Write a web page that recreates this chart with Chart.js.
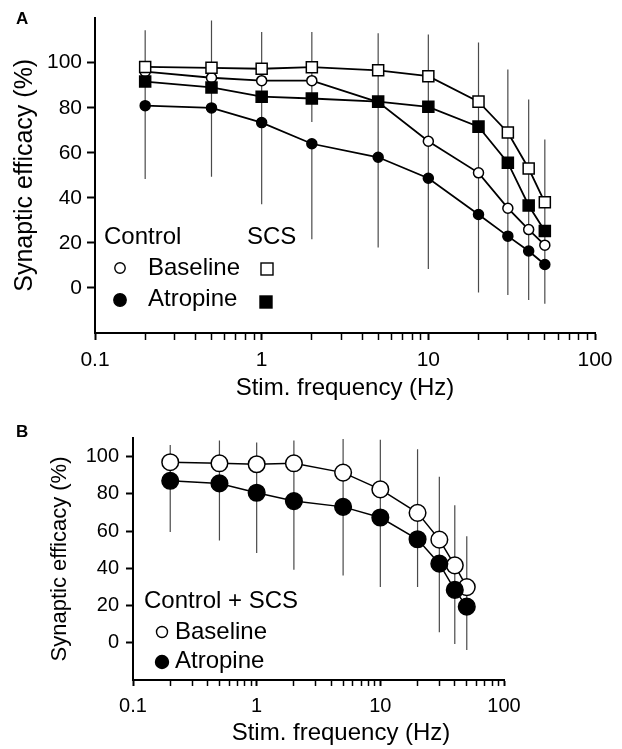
<!DOCTYPE html>
<html><head><meta charset="utf-8">
<script src="https://cdn.jsdelivr.net/npm/chart.js@4.4.1/dist/chart.umd.min.js"></script>
<style>
html,body{margin:0;padding:0;background:#fff;}
#wrap{position:relative;width:622px;height:749px;overflow:hidden;}
.pane{position:absolute;left:0;width:622px;}
</style></head><body>
<div id="wrap">
<div class="pane" style="top:0;height:400px"><canvas id="cA" width="622" height="400"></canvas></div>
<div class="pane" style="top:400px;height:349px"><canvas id="cB" width="622" height="349"></canvas></div>
</div>
<script>
// ---------- data ----------
const freqs = [0.2, 0.5, 1, 2, 5, 10, 20, 30, 40, 50];
const xTickLabels = ['0.1', '1', '10', '100'];
const xMajorValues = [0.1, 1, 10, 100];
const yTickValues = [0, 20, 40, 60, 80, 100];

// Panel A
const aCtrlBase = [96, 93.3, 92, 92, 82.5, 65.1, 51.1, 35.4, 25.9, 19];
const aCtrlAtro = [80.9, 79.9, 73.4, 64, 58, 48.7, 32.6, 23, 16.4, 10.4];
const aScsBase  = [98.1, 97.7, 97.3, 98, 96.6, 94, 82.7, 69, 53, 38];
const aScsAtro  = [91.6, 89, 84.9, 84.1, 82.7, 80.4, 71.6, 55.6, 36.6, 25.3];
const aErrFreq  = [0.2, 0.5, 1, 2, 2, 5, 10, 20, 30, 40, 50];
const aErrHigh  = [114.4, 118.7, 113.6, 113.6, 64, 113, 112.5, 109, 97, 83.6, 65.9];
const aErrLow   = [48.4, 49.4, 37.1, 73.7, 21.6, 18, 8.4, -2, -3.1, -5.3, -7];

// Panel B
const bBase    = [97, 96.4, 95.9, 96.4, 91.4, 82.4, 69.8, 55.4, 41.6, 29.9];
const bAtro    = [87, 85.6, 80.6, 76.1, 73, 67.3, 55.6, 42.5, 28.4, 19.4];
const bErrHigh = [106.3, 108.7, 107.6, 108.6, 109.4, 109, 104, 89.2, 73.9, 57.2];
const bErrLow  = [59.5, 55, 48.2, 39.2, 36.2, 29.9, 29.9, 5.6, -0.7, -3.9];

// ---------- helpers ----------
const FONT = '"Liberation Sans", Arial, Helvetica, sans-serif';
function pts(arr){ return freqs.map((f,i)=>({x:f, y:arr[i]})); }
function errData(fx, lo, hi){
  const d=[];
  fx.forEach((f,i)=>{ d.push({x:f,y:lo[i]},{x:f,y:hi[i]},{x:f,y:null}); });
  return d;
}
function logTicks(){
  const t=[];
  for (let e=-1; e<=1; e++){ for (let m=1; m<=9; m++){ t.push({value: m*Math.pow(10,e)}); } }
  t.push({value:100});
  return t;
}
function isMajor(v){ return xMajorValues.some(m=>Math.abs(v-m)<1e-9*Math.max(1,m)); }
function xLabel(v){ const i = xMajorValues.findIndex(m=>Math.abs(v-m)<1e-9*Math.max(1,m)); return i>=0 ? xTickLabels[i] : ''; }

function series(data, style, radius, fill, lw, order){
  return { data, showLine:true, borderColor:'#000', borderWidth:lw,
    pointStyle:style, pointRadius:radius, pointHoverRadius:radius,
    pointBackgroundColor:fill, pointBorderColor:'#000', pointBorderWidth:1.5,
    fill:false, tension:0, order };
}
function errSeries(data){
  return { data, showLine:true, borderColor:'#4a4a4a', borderWidth:1.2,
    pointRadius:0, pointHoverRadius:0, spanGaps:false, fill:false, order:100 };
}

function makeScales(o){
  return {
    x: {
      type:'logarithmic', min:0.1, max:100, position:'bottom',
      afterBuildTicks(s){ s.ticks = logTicks(); },
      afterFit(s){ s.height = o.xH; },
      ticks:{ autoSkip:false, maxRotation:0, minRotation:0, color:'#000',
        font:{family:FONT, size:o.tickSize}, padding:o.xPad,
        callback:(v)=>xLabel(v) },
      grid:{ drawOnChartArea:false, drawTicks:true, tickLength:o.xTick, tickColor:'#000',
        tickWidth:(c)=> (c.tick && isMajor(c.tick.value)) ? 2 : 1.5 },
      border:{ display:true, color:'#000', width:2 },
      title:{ display:o.xTitle, text:'Stim. frequency (Hz)', color:'#000',
        font:{family:FONT, size:24, lineHeight:1}, padding:{top:0,bottom:0} }
    },
    y: {
      min:-20, max:o.yMax, position:'left',
      afterBuildTicks(s){ s.ticks = yTickValues.map(v=>({value:v})); },
      afterFit(s){ s.width = o.yW; },
      ticks:{ color:'#000', font:{family:FONT, size:o.tickSize}, padding:o.yPad },
      grid:{ drawOnChartArea:false, drawTicks:true, tickLength:o.yTick, tickColor:'#000', tickWidth:2 },
      border:{ display:true, color:'#000', width:2 },
      title:{ display:true, text:'Synaptic efficacy (%)', color:'#000',
        font:{family:FONT, size:o.yTitleSize, lineHeight:1}, padding:{top:o.yTitlePad,bottom:0} }
    }
  };
}

function circle(c,x,y,r,filled){
  c.beginPath(); c.arc(x,y,r,0,Math.PI*2);
  c.fillStyle = filled ? '#000' : '#fff'; c.fill();
  c.lineWidth=1.4; c.strokeStyle='#000'; c.stroke();
}
function square(c,x,y,s,filled){
  c.fillStyle = filled ? '#000' : '#fff';
  c.fillRect(x-s/2,y-s/2,s,s);
  c.lineWidth=1.4; c.strokeStyle='#000'; c.strokeRect(x-s/2,y-s/2,s,s);
}

// ---------- Panel A ----------
const annoA = { id:'annoA', afterDraw(chart){
  const c=chart.ctx; c.save();
  c.fillStyle='#000'; c.textBaseline='middle'; c.textAlign='left';
  c.font='bold 17px '+FONT; c.fillText('A', 16, 19);
  c.fillStyle='#000'; c.font='24px '+FONT;
  c.fillText('Control', 104, 237);
  c.fillText('SCS', 247, 237);
  c.fillText('Baseline', 148, 268);
  c.fillText('Atropine', 148, 299);
  circle(c,120,268,5.2,false);
  circle(c,120,300,6.2,true);
  square(c,267,269,12,false);
  square(c,266,302,12,true);
  c.restore();
}};

new Chart(document.getElementById('cA'), {
  type:'scatter',
  data:{ datasets:[
    errSeries(errData(aErrFreq, aErrLow, aErrHigh)),
    series(pts(aCtrlBase),'circle',5,'#fff',1.8,40),
    series(pts(aCtrlAtro),'circle',5,'#000',1.8,30),
    series(pts(aScsBase),'rect',7.8,'#fff',1.8,20),
    series(pts(aScsAtro),'rect',7.8,'#000',1.8,10)
  ]},
  options:{
    responsive:false, animation:false, events:[],
    layout:{ padding:{left:0, right:27, top:7, bottom:0} },
    plugins:{ legend:{display:false}, tooltip:{enabled:false} },
    scales: makeScales({xH:67, yW:95, tickSize:21, xPad:8, xTick:7, yPad:5, yTick:8,
      yMax:120, xTitle:true, yTitleSize:25, yTitlePad:13})
  },
  plugins:[annoA]
});

// ---------- Panel B ----------
const annoB = { id:'annoB', afterDraw(chart){
  const c=chart.ctx; c.save();
  c.fillStyle='#000'; c.textBaseline='middle'; c.textAlign='left';
  c.font='bold 17px '+FONT; c.fillText('B', 16, 32);
  c.font='24px '+FONT;
  c.fillText('Control + SCS', 144, 201);
  c.fillText('Baseline', 175, 232);
  c.fillText('Atropine', 175, 261);
  circle(c,162,232,5.5,false);
  circle(c,162,262,6.5,true);
  c.textAlign='center';
  c.fillText('Stim. frequency (Hz)', 341, 333);
  c.restore();
}};

new Chart(document.getElementById('cB'), {
  type:'scatter',
  data:{ datasets:[
    errSeries(errData(freqs, bErrLow, bErrHigh)),
    series(pts(bBase),'circle',8.3,'#fff',1.5,20),
    series(pts(bAtro),'circle',8.3,'#000',1.5,10)
  ]},
  options:{
    responsive:false, animation:false, events:[],
    layout:{ padding:{left:0, right:118, top:38, bottom:4} },
    plugins:{ legend:{display:false}, tooltip:{enabled:false} },
    scales: makeScales({xH:65, yW:133, tickSize:20, xPad:8, xTick:6, yPad:7, yTick:7,
      yMax:110, xTitle:false, yTitleSize:22, yTitlePad:49})
  },
  plugins:[annoB]
});
</script>
</body></html>
